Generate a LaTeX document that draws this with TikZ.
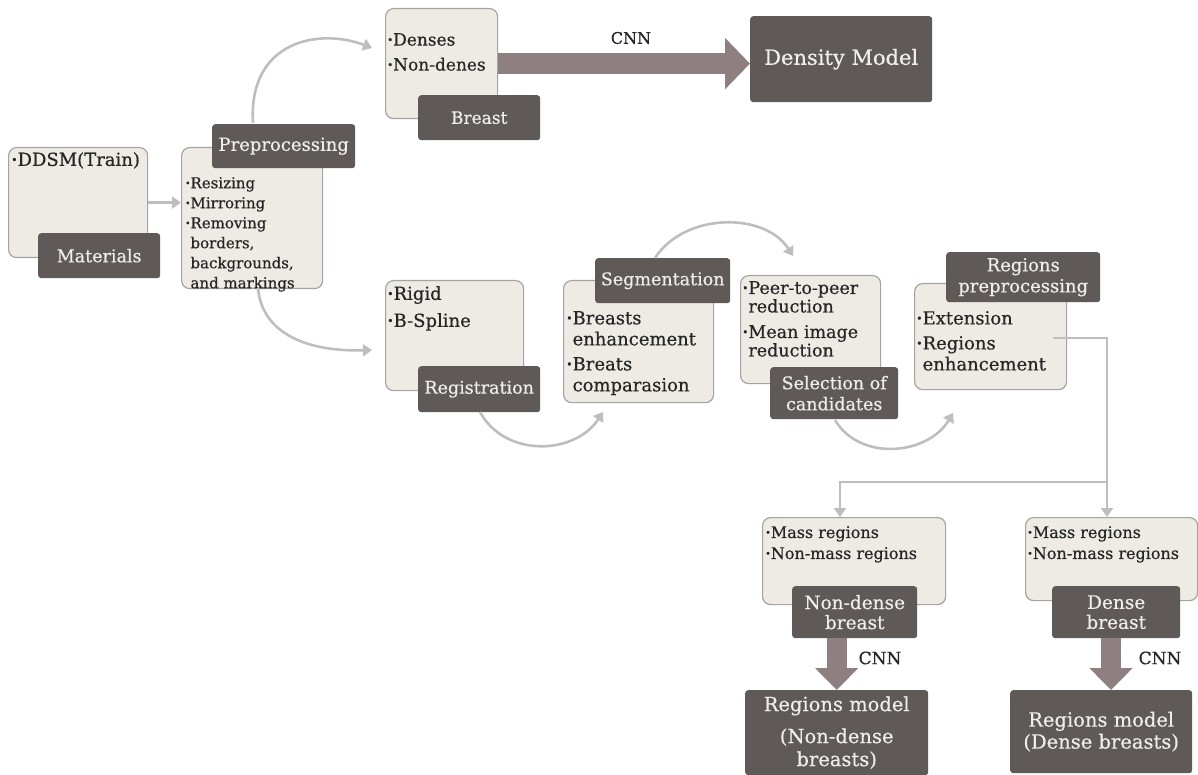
\documentclass[tikz,border=0pt]{standalone}
\usepackage{fontspec}
\setmainfont{DejaVu Serif}[FakeBold=0.5]
\usetikzlibrary{arrows.meta}
\definecolor{lightfill}{HTML}{EDEBE4}
\definecolor{lightdraw}{HTML}{A8A39E}
\definecolor{darkfill}{HTML}{5F5A58}
\definecolor{darktext}{HTML}{EEEEEE}
\definecolor{connc}{HTML}{BEBEBE}
\definecolor{bigarrc}{HTML}{8E8080}
\newcommand\bl{\raisebox{.25ex}{\scalebox{.6}{•}}}
\newcommand\ind{\phantom{\bl}}
\newcommand\fs[2]{\fontsize{#1}{#2}\selectfont}
\tikzset{
  lightbox/.style={draw=lightdraw, fill=lightfill, line width=1.2pt, rounded corners=8pt, anchor=north west, inner sep=0pt},
  darkbox/.style={fill=darkfill, text=darktext, rounded corners=3pt, anchor=north west, inner sep=0pt, align=center},
  itemtext/.style={anchor=north west, align=left, inner sep=0pt, text=black!85},
  conn/.style={draw=connc, line width=2.6pt, -{Triangle[length=9pt,width=12pt]}},
  bigarr/.style={draw=bigarrc, line width=21pt, -{Triangle[length=25pt,width=50pt]}},
  lbl/.style={inner sep=0pt, text=black!85}
}
\begin{document}
\begin{tikzpicture}[x=1pt,y=-1pt]
\useasboundingbox (0,0) rectangle (1198,775);
% Materials
\node[lightbox, minimum width=139pt, minimum height=110pt] (ddsm) at (8,147) {};
\node[itemtext, font=\fs{18}{22}] (ddsmt) at (11,152) {\bl DDSM(Train)};
\node[darkbox, minimum width=122pt, minimum height=45pt, font=\fs{17.5}{20}] (mat) at (38,233) {Materials};
% Preprocessing
\node[lightbox, minimum width=141pt, minimum height=141pt] (prel) at (181,147) {};
\node[itemtext, font=\fs{15}{20}] (pret) at (185,177) {\bl Resizing\\ \bl Mirroring\\ \bl Removing\\ \ind borders,\\ \ind backgrounds,\\ \ind and markings};
\node[darkbox, minimum width=143pt, minimum height=44pt, font=\fs{18}{20}] (pred) at (212,124) {Preprocessing};
% Breast
\node[lightbox, minimum width=112pt, minimum height=110pt] (brl) at (385,8) {};
\node[itemtext, font=\fs{17}{25}] (brt) at (387,33) {\bl Denses\\ \bl Non-denes};
\node[darkbox, minimum width=122pt, minimum height=45pt, font=\fs{17}{20}] (brd) at (418,95) {Breast};
% Density model
\node[darkbox, minimum width=182pt, minimum height=86pt, font=\fs{21}{24}] (dens) at (750,16) {Density Model};
\node[lbl, font=\fs{16}{18}] (cnn1) at (631,38) {CNN};
\draw[bigarr] (brl.east) -- (brl.east -| dens.west);
% Registration
\node[lightbox, minimum width=138pt, minimum height=110pt] (regl) at (385,280) {};
\node[itemtext, font=\fs{18}{27}] (regt) at (387,286) {\bl Rigid\\ \bl B-Spline};
\node[darkbox, minimum width=122pt, minimum height=46pt, font=\fs{17.5}{20}] (regd) at (418,366) {Registration};
% Segmentation
\node[lightbox, minimum width=150pt, minimum height=122pt] (segl) at (563,280) {};
\node[itemtext, font=\fs{18}{21}] (segt) at (566,311) {\bl Breasts\\ \ind enhancement\\[4pt] \bl Breats\\ \ind comparasion};
\node[darkbox, minimum width=135pt, minimum height=45pt, font=\fs{17.5}{20}] (segd) at (595,258) {Segmentation};
% Selection of candidates
\node[lightbox, minimum width=140pt, minimum height=108pt] (sell) at (740,275) {};
\node[itemtext, font=\fs{17.5}{18.5}] (selt) at (742,281) {\bl Peer-to-peer\\ \ind reduction\\[7pt] \bl Mean image\\ \ind reduction};
\node[darkbox, minimum width=128pt, minimum height=52pt, font=\fs{17.5}{21}] (seld) at (770,367) {Selection of\\candidates};
% Regions preprocessing
\node[lightbox, minimum width=152pt, minimum height=106pt] (rpl) at (914,283) {};
\node[itemtext, font=\fs{18}{21}] (rpt) at (916,311) {\bl Extension\\[4pt] \bl Regions\\ \ind enhancement};
\node[darkbox, minimum width=154pt, minimum height=50pt, font=\fs{18}{21}] (rpd) at (946,252) {Regions\\preprocessing};
% Mass regions boxes
\node[lightbox, minimum width=183pt, minimum height=87pt] (massl) at (762,517) {};
\node[itemtext, font=\fs{16}{21}] (masslt) at (765,526) {\bl Mass regions\\ \bl Non-mass regions};
\node[darkbox, minimum width=125pt, minimum height=52pt, font=\fs{18.5}{20}] (ndd) at (792,586) {Non-dense\\breast};
\node[lightbox, minimum width=172pt, minimum height=83pt] (massr) at (1025,517) {};
\node[itemtext, font=\fs{16}{21}] (massrt) at (1027,526) {\bl Mass regions\\ \bl Non-mass regions};
\node[darkbox, minimum width=128pt, minimum height=52pt, font=\fs{18.5}{20}] (dd) at (1052,586) {Dense\\breast};
% Regions models
\node[darkbox, minimum width=183pt, minimum height=85pt, font=\fs{19.5}{23}] (rml) at (745,690) {Regions model\\[9pt](Non-dense\\breasts)};
\node[darkbox, minimum width=182pt, minimum height=83pt, font=\fs{19.5}{22}] (rmr) at (1010,690) {Regions model\\(Dense breasts)};
\node[lbl, font=\fs{17}{18}] (cnn2) at (880,658) {CNN};
\node[lbl, font=\fs{17}{18}] (cnn3) at (1160,658) {CNN};
\draw[bigarr, line width=20pt, -{Triangle[length=22pt,width=42pt]}] (ndd.south -| rml.north) -- (rml.north);
\draw[bigarr, line width=20pt, -{Triangle[length=22pt,width=42pt]}] (dd.south -| 1111,0) -- (rmr.north -| 1111,0);
% Connectors
\draw[conn] (ddsm.east) -- (ddsm.east -| prel.west);
\coordinate (c1s) at (253,123);
\coordinate (c1e) at (372,48);
\draw[conn] (c1s) .. controls (248,40) and (320,28) .. (c1e);
\coordinate (c2s) at (258,288);
\coordinate (c2e) at (372,350);
\draw[conn] (c2s) .. controls (262,335) and (310,352) .. (c2e);
\coordinate (c3s) at (480,412);
\coordinate (c3e) at (603,412);
\draw[conn] (c3s) .. controls (505,458) and (575,455) .. (c3e);
\coordinate (c4s) at (655,258);
\coordinate (c4e) at (793,256);
\draw[conn] (c4s) .. controls (685,212) and (765,212) .. (c4e);
\coordinate (c5s) at (835,420);
\coordinate (c5e) at (953,413);
\draw[conn] (c5s) .. controls (860,462) and (928,455) .. (c5e);
\coordinate (rps) at (1053,338);
\coordinate (rpc) at (1107,338);
\coordinate (split) at (1107,482);
\coordinate (lsplit) at (840,482);
\draw[conn] (rps) -- (rpc) -- (rpc |- massr.north);
\draw[conn] (split) -- (lsplit) -- (lsplit |- massl.north);
\end{tikzpicture}
\end{document}
